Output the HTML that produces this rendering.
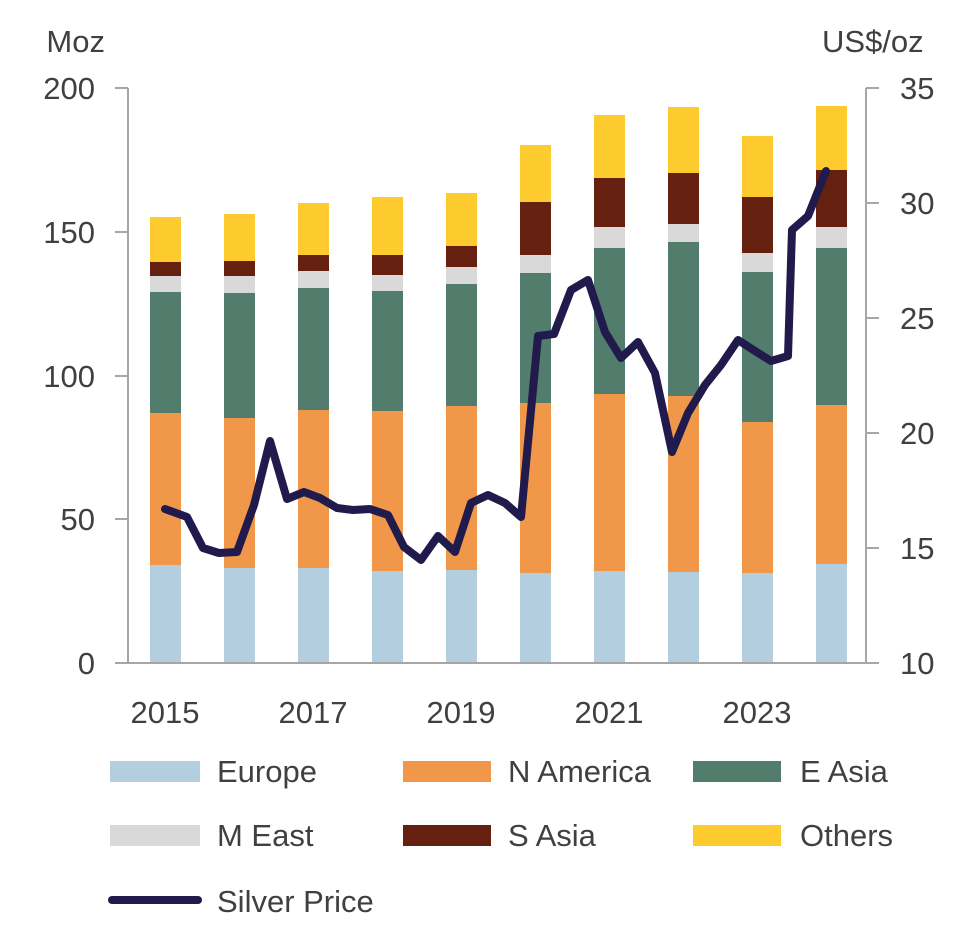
<!DOCTYPE html>
<html><head><meta charset="utf-8"><style>
html,body{margin:0;padding:0;background:#fff;}
svg{display:block;font-family:"Liberation Sans",Calibri,sans-serif;}
text{fill:#404040;font-size:31px;}
</style></head><body>
<svg width="966" height="935" viewBox="0 0 966 935">
<g id="bars"></g>
<line x1="128" y1="88" x2="128" y2="663" stroke="#a6a6a6" stroke-width="2"/>
<line x1="866" y1="88" x2="866" y2="663" stroke="#a6a6a6" stroke-width="2"/>
<line x1="128" y1="663" x2="866" y2="663" stroke="#a6a6a6" stroke-width="2"/>
<g stroke="#a6a6a6" stroke-width="2">
<line x1="115" y1="88" x2="128" y2="88"/><line x1="115" y1="232" x2="128" y2="232"/><line x1="115" y1="376" x2="128" y2="376"/><line x1="115" y1="519" x2="128" y2="519"/><line x1="115" y1="663" x2="128" y2="663"/>
<line x1="866" y1="88" x2="879" y2="88"/><line x1="866" y1="203" x2="879" y2="203"/><line x1="866" y1="318" x2="879" y2="318"/><line x1="866" y1="433" x2="879" y2="433"/><line x1="866" y1="548" x2="879" y2="548"/><line x1="866" y1="663" x2="879" y2="663"/>
</g>
<g text-anchor="end">
<text x="105" y="52">Moz</text>
<text x="95" y="99">200</text><text x="95" y="243">150</text><text x="95" y="387">100</text><text x="95" y="530">50</text><text x="95" y="674">0</text>
</g>
<text x="822" y="52">US$/oz</text>
<text x="900" y="99">35</text><text x="900" y="214">30</text><text x="900" y="329">25</text><text x="900" y="444">20</text><text x="900" y="559">15</text><text x="900" y="674">10</text>
<g text-anchor="middle">
<text x="165" y="723">2015</text><text x="313" y="723">2017</text><text x="461" y="723">2019</text><text x="609" y="723">2021</text><text x="757" y="723">2023</text>
</g>
<polyline fill="none" stroke="#201a4d" stroke-width="8" stroke-linejoin="round" stroke-linecap="round" points="165,509 187,517 203,548 219,553 237,552 254,505 270,441 287,499 304,492 320,498 337,508 353,510 370,509 388,515 404,547 421,560 438,536 455,552 471,503 488,495 505,503 521,517 538,336 554,334 571,290 588,280 605,332 621,358 638,342 655,373 672,452 688,413 705,385 721,365 738,340 755,351 771,361 788,356 792,230 808,216 826,171"/>
<rect x="110" y="761" width="90" height="21" fill="#b3cfdf"/><text x="217" y="782">Europe</text>
<rect x="403" y="761" width="88" height="21" fill="#f0974a"/><text x="508" y="782">N America</text>
<rect x="693" y="761" width="88" height="21" fill="#527c6c"/><text x="800" y="782">E Asia</text>
<rect x="110" y="825" width="90" height="21" fill="#d9d9d9"/><text x="217" y="846">M East</text>
<rect x="403" y="825" width="88" height="21" fill="#65200f"/><text x="508" y="846">S Asia</text>
<rect x="693" y="825" width="88" height="21" fill="#fdcb2d"/><text x="800" y="846">Others</text>
<line x1="112" y1="900" x2="198" y2="900" stroke="#201a4d" stroke-width="8" stroke-linecap="round"/><text x="217" y="912">Silver Price</text>
</svg>
<script>
var d=[[565,413,292,276,262,217],[568,418,293,276,261,214],[568,410,288,271,255,203],[571,411,291,275,255,197],[570,406,284,267,246,193],[573,403,273,255,202,145],[571,394,248,227,178,115],[572,396,242,224,173,107],[573,422,272,253,197,136],[564,405,248,227,170,106]];
var c=["#b3cfdf","#f0974a","#527c6c","#d9d9d9","#65200f","#fdcb2d"];
var g=document.getElementById("bars"),h="";
d.forEach(function(b,i){var x=150+i*74,prev=663;b.forEach(function(t,j){h+='<rect x="'+x+'" y="'+t+'" width="31" height="'+(prev-t)+'" fill="'+c[j]+'"/>';prev=t;});});
g.innerHTML=h;
</script>
</body></html>
